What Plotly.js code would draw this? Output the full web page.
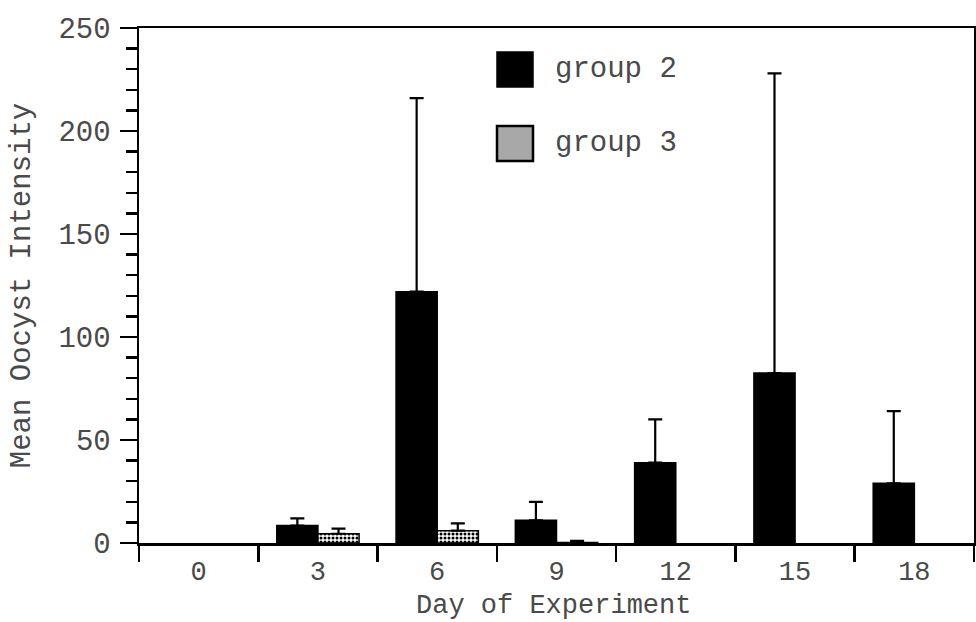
<!DOCTYPE html>
<html>
<head>
<meta charset="utf-8">
<script src="https://cdn.plot.ly/plotly-3.0.1.min.js"></script>
<style>html,body{margin:0;padding:0;background:#fff;}#chart{width:976px;height:622px;}</style>
</head>
<body>
<div id="chart"></div>
<script>
// ---- data ----
const days = ['0', '3', '6', '9', '12', '15', '18'];
const seriesNames = ['group 2', 'group 3'];
const group2Mean = [null, 8.5, 122, 11, 39, 82.5, 29];
const group2ErrPlus = [null, 3.5, 94, 9, 21, 145.5, 35];
const group3Mean = [null, 4.5, 6, 0.3, null, null, null];
const group3ErrPlus = [null, 2.5, 3.5, 0.7, null, null, null];
const yTickVals = [0, 50, 100, 150, 200, 250];
const xTitle = 'Day of Experiment';
const yTitle = 'Mean Oocyst Intensity';

const FONT = '"Liberation Mono", "DejaVu Sans Mono", monospace';
const TXT = '#4a4a4a';
const zeros = days.map(() => 0);

const traces = [
  {
    type: 'bar', name: seriesNames[0], x: days, y: group2Mean,
    marker: {color: '#000000', line: {color: '#000000', width: 1.5}},
    error_y: {type: 'data', symmetric: false, array: group2ErrPlus, arrayminus: zeros,
              color: '#000000', thickness: 2.2, width: 7},
    showlegend: false
  },
  {
    type: 'bar', name: seriesNames[1], x: days, y: group3Mean,
    marker: {color: '#ffffff', line: {color: '#000000', width: 1.5},
             pattern: {shape: '.', size: 4, solidity: 0.45, fgcolor: '#000000', bgcolor: '#ffffff'}},
    error_y: {type: 'data', symmetric: false, array: group3ErrPlus, arrayminus: zeros,
              color: '#000000', thickness: 2.2, width: 7},
    showlegend: false
  }
];

const layout = {
  width: 976, height: 622,
  margin: {l: 139, r: 2, t: 28, b: 79, pad: 0},
  paper_bgcolor: '#ffffff', plot_bgcolor: '#ffffff',
  font: {family: FONT, size: 29, color: TXT},
  barmode: 'group', bargap: 0.31, bargroupgap: 0,
  showlegend: false,
  xaxis: {
    type: 'category', categoryorder: 'array', categoryarray: days,
    tickson: 'boundaries', ticks: 'outside', ticklen: 16, tickwidth: 2.5, tickcolor: '#000',
    showline: true, linecolor: '#000', linewidth: 2.5, mirror: true,
    showgrid: false, zeroline: false,
    tickfont: {family: FONT, size: 27, color: TXT},
    ticklabelstandoff: 2
  },
  yaxis: {
    range: [0, 250], tickvals: yTickVals, ticks: 'outside', ticklen: 17, tickwidth: 2.5, tickcolor: '#000',
    minor: {dtick: 10, ticks: 'outside', ticklen: 11, tickwidth: 2.5, tickcolor: '#000', showgrid: false},
    showline: true, linecolor: '#000', linewidth: 2.5, mirror: true,
    showgrid: false, zeroline: false,
    tickfont: {family: FONT, size: 29, color: TXT},
    ticklabelstandoff: 3,
    title: {text: yTitle, font: {family: FONT, size: 29, color: TXT}, standoff: 20}
  },
  shapes: [
    {type: 'rect', xref: 'paper', yref: 'paper',
     x0: (497 - 139) / 835, x1: (533 - 139) / 835, y0: (543 - 87) / 515, y1: (543 - 52) / 515,
     fillcolor: '#000000', line: {color: '#000000', width: 1.5}},
    {type: 'rect', xref: 'paper', yref: 'paper',
     x0: (497 - 139) / 835, x1: (533 - 139) / 835, y0: (543 - 161) / 515, y1: (543 - 126) / 515,
     fillcolor: '#a8a8a8', line: {color: '#000000', width: 2.5}}
  ],
  annotations: [
    {xref: 'paper', yref: 'paper', x: (553 - 139) / 835, y: (543 - 69) / 515,
     xanchor: 'left', yanchor: 'middle', showarrow: false, text: seriesNames[0],
     font: {family: FONT, size: 29, color: TXT}},
    {xref: 'paper', yref: 'paper', x: (553 - 139) / 835, y: (543 - 143) / 515,
     xanchor: 'left', yanchor: 'middle', showarrow: false, text: seriesNames[1],
     font: {family: FONT, size: 29, color: TXT}},
    {xref: 'paper', yref: 'paper', x: (553 - 139) / 835, y: (543 - 621.5) / 515,
     xanchor: 'center', yanchor: 'bottom', showarrow: false, text: xTitle, borderpad: 0,
     font: {family: FONT, size: 27, color: TXT}}
  ]
};

Plotly.newPlot('chart', traces, layout, {displayModeBar: false, staticPlot: true});
</script>
</body>
</html>
